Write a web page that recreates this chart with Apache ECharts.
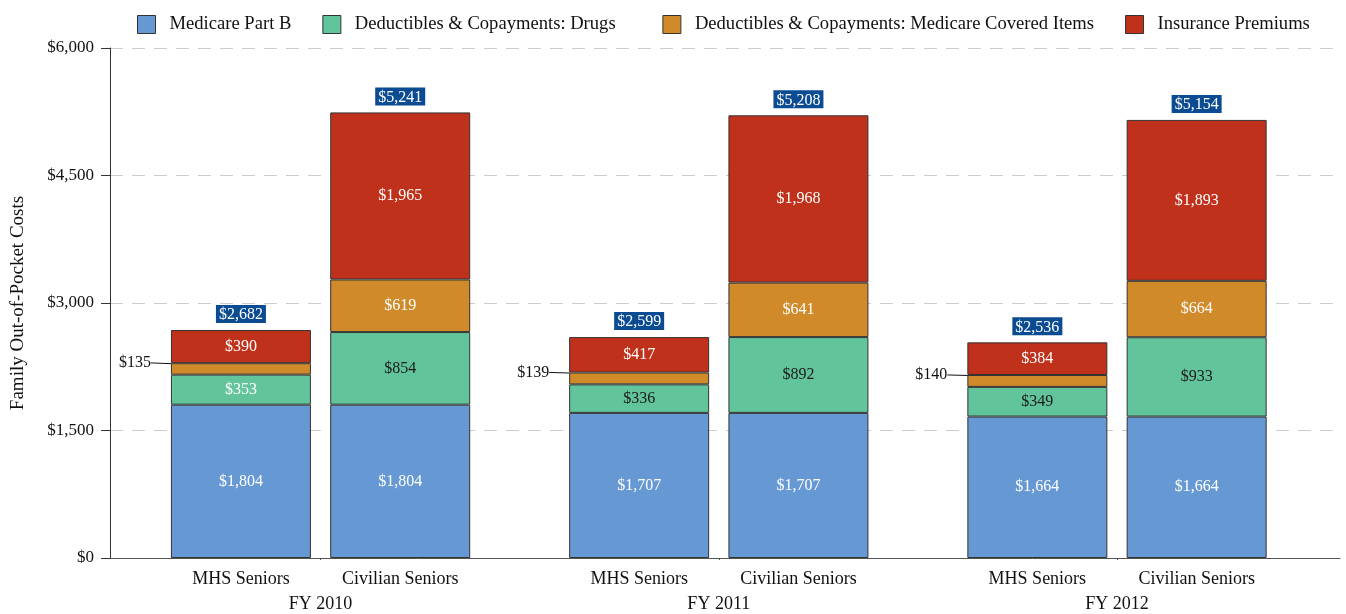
<!DOCTYPE html>
<html>
<head>
<meta charset="utf-8">
<script src="https://cdn.jsdelivr.net/npm/echarts@6/dist/echarts.min.js"></script>
<style>html,body{margin:0;padding:0;background:#fff}#c{width:1346px;height:614px}</style>
</head>
<body>
<div id="c"></div>
<script>
var barLabels = ['MHS Seniors', 'Civilian Seniors', 'MHS Seniors', 'Civilian Seniors', 'MHS Seniors', 'Civilian Seniors'];
var barPositions = [0, 2, 5, 7, 10, 12];
var yearLabels = ['FY 2010', 'FY 2011', 'FY 2012'];
var yearPositions = [1, 6, 11];
var seriesNames = ['Medicare Part B', 'Deductibles & Copayments: Drugs', 'Deductibles & Copayments: Medicare Covered Items', 'Insurance Premiums'];
var partB = [1804, 1804, 1707, 1707, 1664, 1664];
var drugs = [353, 854, 336, 892, 349, 933];
var covered = [135, 619, 139, 641, 140, 664];
var premiums = [390, 1965, 417, 1968, 384, 1893];
var totals = [2682, 5241, 2599, 5208, 2536, 5154];

var colors = ['#6699D3', '#62C49B', '#D08A2A', '#BF311B'];
var FONT = 'Liberation Serif';
var WORD = 18;
function money(v){ return '$' + v.toLocaleString('en-US'); }

var chart = echarts.init(document.getElementById('c'), null, {renderer: 'canvas'});

function mk(idx, vals, labelColorFn){
  return {
    name: seriesNames[idx],
    type: 'bar',
    stack: 'total',
    barWidth: 140,
    encode: {x: 1, y: 0},
    itemStyle: {color: colors[idx], borderColor: '#333', borderWidth: 1},
    label: {show: true, position: 'inside', fontFamily: FONT, fontSize: 16, color: '#fff',
      formatter: function(p){ return money(p.value[0]); }},
    data: vals.map(function(v, i){
      var d = {value: [v, barPositions[i]]};
      if (labelColorFn) { var c = labelColorFn(i); if (c) d.label = {color: c}; }
      return d;
    })
  };
}

var coveredSeries = mk(2, covered);
coveredSeries.data = covered.map(function(v, i){
  var d = {value: [v, barPositions[i]]};
  if (i % 2 === 0) {
    d.label = {position: 'left', distance: 4, color: '#111'};
    d.labelLine = {show: true, lineStyle: {color: '#111', width: 1}};
  }
  return d;
});
coveredSeries.labelLayout = function(p){
  if (p.dataIndex % 2 === 0) return {dx: -16, dy: -6};
  return {};
};
coveredSeries.labelLine = {show: false, length2: 0};

var option = {
  animation: false,
  backgroundColor: '#fff',
  textStyle: {fontFamily: FONT},
  color: colors,
  legend: {
    top: 9, left: 132,
    itemWidth: 18, itemHeight: 18, itemGap: 31,
    icon: 'rect',
    itemStyle: {borderColor: '#333', borderWidth: 1},
    textStyle: {fontFamily: FONT, fontSize: 18.6, color: '#111', padding: [0, 0, 0, 9],
      rich: {w: {fontSize: 21, fontFamily: FONT}}},
    formatter: function(n){ return n === seriesNames[1] ? n + '{w|   }' : n; },
    data: seriesNames
  },
  grid: {left: 110, right: 6, top: 48, bottom: 56, containLabel: false},
  xAxis: [{
    type: 'value', min: -1.644, max: 13.8,
    splitLine: {show: false},
    axisLine: {show: true, onZero: false, lineStyle: {color: '#555', width: 1}},
    axisTick: {show: true, customValues: yearPositions, length: 2, lineStyle: {color: '#555'}},
    axisLabel: {show: true, customValues: barPositions, margin: 12, fontFamily: FONT, fontSize: WORD, color: '#111',
      formatter: function(v){ var i = barPositions.indexOf(Math.round(v)); return i >= 0 ? barLabels[i] : ''; }}
  }, {
    type: 'value', min: -1.644, max: 13.8, position: 'bottom', offset: 25,
    splitLine: {show: false}, axisLine: {show: false}, axisTick: {show: false},
    axisLabel: {show: true, customValues: yearPositions, margin: 12, fontFamily: FONT, fontSize: WORD, color: '#111',
      formatter: function(v){ var i = yearPositions.indexOf(Math.round(v)); return i >= 0 ? yearLabels[i] : ''; }}
  }],
  yAxis: {
    type: 'value', min: 0, max: 6000, interval: 1500,
    name: 'Family Out-of-Pocket Costs', nameLocation: 'middle', nameGap: 82, nameRotate: 90,
    nameTextStyle: {fontFamily: FONT, fontSize: 19, color: '#111'},
    axisLine: {show: true, onZero: false, lineStyle: {color: '#333', width: 1}},
    axisTick: {show: true, length: 9, lineStyle: {color: '#333'}},
    axisLabel: {fontFamily: FONT, fontSize: 17, color: '#111', margin: 16,
      formatter: function(v){ return money(v); }},
    splitLine: {show: true, lineStyle: {color: '#cccccc', type: [13, 9], width: 1.2}}
  },
  series: [
    mk(0, partB),
    mk(1, drugs, function(i){ return i === 0 ? '#fff' : '#1a1a1a'; }),
    coveredSeries,
    mk(3, premiums),
    {
      name: 'Total', type: 'bar', stack: 'total', barWidth: 140,
      encode: {x: 1, y: 0},
      itemStyle: {color: 'rgba(0,0,0,0)', borderWidth: 0},
      label: {show: true, position: 'top', distance: 7, fontFamily: FONT, fontSize: 16, color: '#fff',
        backgroundColor: '#0B4B91', padding: [2, 3, 0, 3],
        formatter: function(p){ return money(totals[p.dataIndex]); }},
      data: totals.map(function(t, i){ return [0, barPositions[i]]; })
    }
  ]
};
chart.setOption(option);
</script>
</body>
</html>
